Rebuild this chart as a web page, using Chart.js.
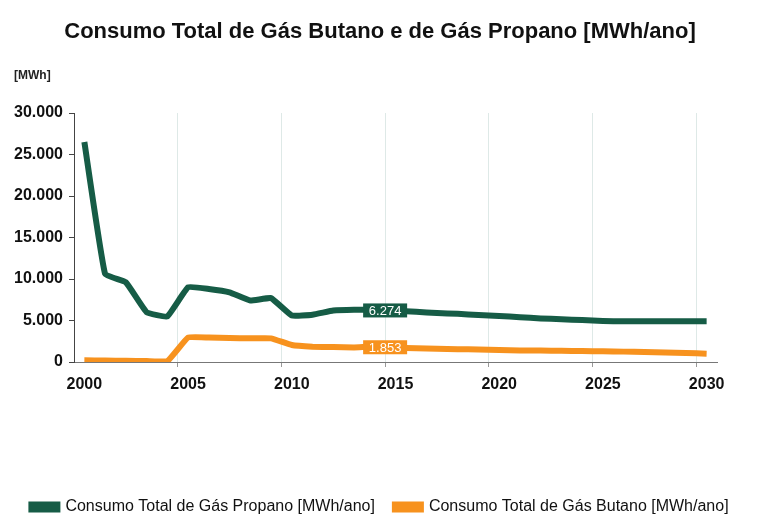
<!DOCTYPE html>
<html>
<head>
<meta charset="utf-8">
<script src="https://cdn.jsdelivr.net/npm/chart.js@4.4.0/dist/chart.umd.min.js"></script>
<style>
    html, body { margin: 0; padding: 0; background: #fff; }
    #wrap { width: 760px; height: 518px; }
</style>
</head>
<body>
<div id="wrap"><canvas id="gas-chart" width="760" height="518"></canvas></div>
<script>
// Data
const years = [];
for (let y = 2000; y <= 2030; y++) years.push(String(y));

const propano = [26500, 10600, 9600, 6000, 5500, 9000, 8800, 8400, 7400, 7700,
    5600, 5700, 6200, 6300, 6274, 6150, 6050, 5900, 5800, 5650,
    5550, 5400, 5250, 5150, 5050, 4950, 4900, 4900, 4900, 4900, 4900];
const butano = [200, 180, 150, 120, 100, 2950, 2950, 2900, 2850, 2850,
    2050, 1850, 1800, 1750, 1853, 1700, 1650, 1600, 1550, 1500,
    1450, 1400, 1380, 1350, 1320, 1290, 1250, 1200, 1150, 1080, 1000];

// labels shown on the lines
const labelIndex = 14;
const labelValues = [6274, 1853];

const seriesNames = [
    'Consumo Total de Gás Propano [MWh/ano]',
    'Consumo Total de Gás Butano [MWh/ano]'
];

const green = 'rgb(22,92,70)';
const orange = 'rgb(247,146,30)';

const fmt = (v) => v.toLocaleString('de-DE');

const dataGas = {
    labels: years,
    datasets: [{
        label: seriesNames[0],
        data: propano,
        borderColor: green,
        backgroundColor: green,
        borderWidth: 6,
        pointRadius: 0,
        tension: 0.1
    }, {
        label: seriesNames[1],
        data: butano,
        borderColor: orange,
        backgroundColor: orange,
        borderWidth: 6,
        pointRadius: 0,
        tension: 0.1
    }]
};

// value boxes + [MWh] unit
const valueBoxes = {
    id: 'valueBoxes',
    afterDatasetsDraw: (chart) => {
        const ctx = chart.ctx;
        ctx.save();
        chart.data.datasets.forEach((ds, i) => {
            const pts = chart.getDatasetMeta(i).data;
            const a = pts[labelIndex], b = pts[labelIndex + 1];
            const x = (a.x + b.x) / 2;
            const y = (a.y + b.y) / 2;
            ctx.fillStyle = ds.borderColor;
            ctx.fillRect(x - 22, y - 7, 44, 14);
            ctx.fillStyle = '#fff';
            ctx.font = '13px Arial, "Liberation Sans"';
            ctx.textAlign = 'center';
            ctx.textBaseline = 'middle';
            ctx.fillText(fmt(labelValues[i]), x, y + 1);
        });
        ctx.fillStyle = '#222';
        ctx.font = 'bold 12px Arial, "Liberation Sans"';
        ctx.textAlign = 'left';
        ctx.textBaseline = 'middle';
        ctx.fillText('[MWh]', 14, 76);
        ctx.restore();
    }
};

const optionsGas = {
    responsive: false,
    animation: false,
    layout: {
        padding: { left: 0, right: 0, top: 0, bottom: -7 }
    },
    scales: {
        x: {
            type: 'category',
            offset: true,
            afterFit: (scale) => { scale.height = 117; },
            grid: {
                offset: true,
                drawOnChartArea: true,
                tickLength: 5,
                color: (c) => (c.index % 5 === 0 && c.index > 0) ? 'rgba(200,218,215,0.6)' : 'rgba(0,0,0,0)',
                tickColor: (c) => (c.index % 5 === 0 && c.index > 0) ? '#999' : 'rgba(0,0,0,0)'
            },
            border: { display: true, color: '#777', width: 1 },
            ticks: {
                autoSkip: false,
                maxRotation: 0,
                padding: 8,
                color: '#111',
                font: { family: 'Arial, "Liberation Sans"', size: 16, weight: 'bold' },
                callback: (val, i) => (Number(years[i]) % 5 === 0 ? years[i] : '')
            }
        },
        y: {
            min: 0,
            max: 30000,
            afterFit: (scale) => { scale.width = 74; },
            grid: {
                drawOnChartArea: false,
                tickLength: 5,
                color: '#444'
            },
            border: { display: true, color: '#444', width: 1 },
            ticks: {
                stepSize: 5000,
                padding: 6,
                color: '#111',
                font: { family: 'Arial, "Liberation Sans"', size: 16, weight: 'bold' },
                callback: (v) => fmt(v)
            }
        },
        // empty right axis, only keeps the plot clear of the right edge
        yRight: {
            position: 'right',
            min: 0,
            max: 30000,
            afterFit: (scale) => { scale.width = 43; },
            grid: { display: false },
            border: { display: false },
            ticks: { display: false }
        }
    },
    plugins: {
        title: {
            display: true,
            text: 'Consumo Total de Gás Butano e de Gás Propano [MWh/ano]',
            color: '#111',
            font: { family: 'Arial, "Liberation Sans"', size: 22, weight: 'bold' },
            padding: { top: 18.8, bottom: 67.8 }
        },
        legend: {
            display: true,
            position: 'bottom',
            align: 'center',
            labels: {
                boxWidth: 26,
                boxHeight: 5,
                padding: 20,
                color: '#111',
                font: { family: 'Arial, "Liberation Sans"', size: 16 }
            }
        },
        tooltip: { enabled: false }
    }
};

new Chart(document.querySelector('#gas-chart'), {
    type: 'line',
    data: dataGas,
    options: optionsGas,
    plugins: [valueBoxes]
});
</script>
</body>
</html>
